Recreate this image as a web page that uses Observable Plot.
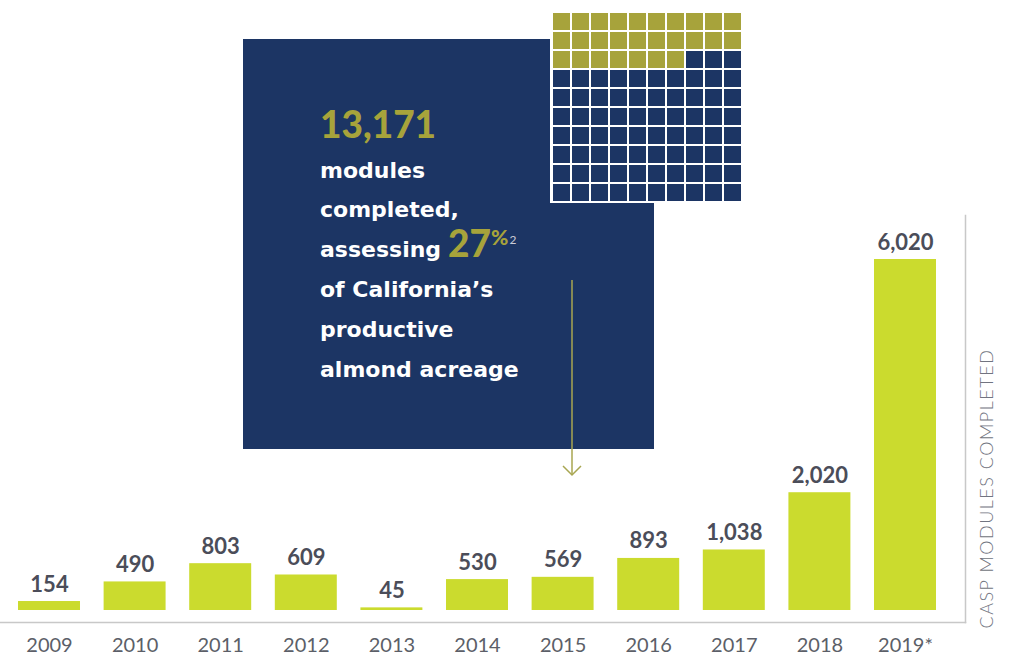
<!DOCTYPE html>
<html>
<head>
<meta charset="utf-8">
<script src="https://cdn.jsdelivr.net/npm/d3@7"></script>
<script src="https://cdn.jsdelivr.net/npm/@observablehq/plot@0.6"></script>
<style>
  html, body { margin: 0; padding: 0; background: #ffffff; }
  #wrap { position: relative; width: 1019px; height: 656px; overflow: hidden; font-family: Lato, "DejaVu Sans", sans-serif; }
  #wrap > * { position: absolute; }
  #box { left: 243px; top: 39px; width: 411px; height: 410px; background: #1c3564; }
</style>
</head>
<body>
<div id="wrap"></div>
<script>
// ---- data ----
const years = ["2009", "2010", "2011", "2012", "2013", "2014", "2015", "2016", "2017", "2018", "2019*"];
const modules = [154, 490, 803, 609, 45, 530, 569, 893, 1038, 2020, 6020];
const axisTitle = "CASP MODULES COMPLETED";
const totalModules = "13,171";
const sharePercent = 27;
const boxLines = ["modules", "completed,", "assessing", "of California\u2019s", "productive", "almond acreage"];

// ---- colours ----
const barColor = "#cbdb2e";
const navy = "#1c3564";
const olive = "#a7a33b";
const labelColor = "#4b4d59";

const data = years.map((year, i) => ({year, value: modules[i]}));
const wrap = document.getElementById("wrap");

// ---- main bar chart ----
const chart = Plot.plot({
  width: 1019,
  height: 656,
  marginTop: 215,
  marginRight: 54,
  marginBottom: 34,
  marginLeft: 0,
  style: {fontFamily: "Lato, sans-serif", background: "transparent"},
  x: {domain: years, range: [6.2, 947.8], paddingInner: 0.276, paddingOuter: 0.138, round: false, axis: null},
  y: {domain: [0, 6020], range: [610, 259], axis: null},
  marks: [
    Plot.frame({anchor: "bottom", stroke: "#c8c8c8", strokeWidth: 1.5}),
    Plot.frame({anchor: "right", stroke: "#c8c8c8", strokeWidth: 1.5}),
    Plot.barY(data, {x: "year", y: "value", fill: barColor}),
    Plot.text(data, {x: "year", y: "value", text: d => d3.format(",")(d.value), lineAnchor: "bottom", dy: -10,
      fontSize: 22, fontWeight: 700, fill: labelColor}),
    Plot.axisX({tickSize: 0, tickPadding: 15, fontSize: 20, fontWeight: 400, color: "#5c5f68", label: null}),
    Plot.text([axisTitle], {frameAnchor: "bottom-right", rotate: -90, dx: 27, dy: 6, textAnchor: "start",
      fontSize: 18, fontWeight: 300, fill: "#717480"})
  ]
});
chart.style.left = "0px"; chart.style.top = "0px";
chart.querySelectorAll("text").forEach(t => {
  if (t.textContent === axisTitle) t.style.letterSpacing = "1.5px";
});
wrap.appendChild(chart);

// ---- navy box with text ----
const box = document.createElement("div");
box.id = "box";
wrap.appendChild(box);

const txt = d3.create("svg").attr("width", 1019).attr("height", 656)
  .style("left", "0px").style("top", "0px").style("pointer-events", "none");
txt.append("text").attr("x", 320).attr("y", 138).attr("fill", olive)
  .style("font", "900 37px Lato, sans-serif").text(totalModules);
const baselines = [178, 217, 257, 297, 337, 377];
boxLines.forEach((line, i) => {
  const t = txt.append("text").attr("x", 320).attr("y", baselines[i]).attr("fill", "#ffffff")
    .style("font", "700 22px 'DejaVu Sans', sans-serif");
  t.append("tspan").text(line);
  if (i === 2) {
    t.append("tspan").attr("dx", 7).attr("fill", olive).style("font", "900 37px Lato, sans-serif").text(String(sharePercent));
    t.append("tspan").attr("dy", -12).attr("fill", olive).style("font", "900 21px Lato, sans-serif").text("%");
    t.append("tspan").attr("dy", -1).attr("dx", 1).attr("fill", "#c9cbd6").style("font", "400 12px Lato, sans-serif").text("2");
  }
});
// arrow
const arrowColor = "#a8a651";
txt.append("line").attr("x1", 572).attr("x2", 572).attr("y1", 280).attr("y2", 475)
  .attr("stroke", arrowColor).attr("stroke-width", 1.5);
txt.append("path").attr("d", "M563,466 L572,475 L581,466").attr("fill", "none")
  .attr("stroke", arrowColor).attr("stroke-width", 1.5);
wrap.appendChild(txt.node());

// ---- waffle (share of acreage) ----
const cells = d3.range(100).map(i => ({col: i % 10, row: Math.floor(i / 10), covered: i < sharePercent}));
const waffle = Plot.plot({
  width: 194,
  height: 193,
  margin: 0,
  style: {background: "#ffffff"},
  x: {axis: null, padding: 0, domain: d3.range(10)},
  y: {axis: null, padding: 0, domain: d3.range(10)},
  marks: [
    Plot.cell(cells, {x: "col", y: "row", fill: d => d.covered ? olive : navy, inset: 1})
  ]
});
waffle.style.left = "550px"; waffle.style.top = "9.5px";
wrap.appendChild(waffle);
</script>
</body>
</html>
